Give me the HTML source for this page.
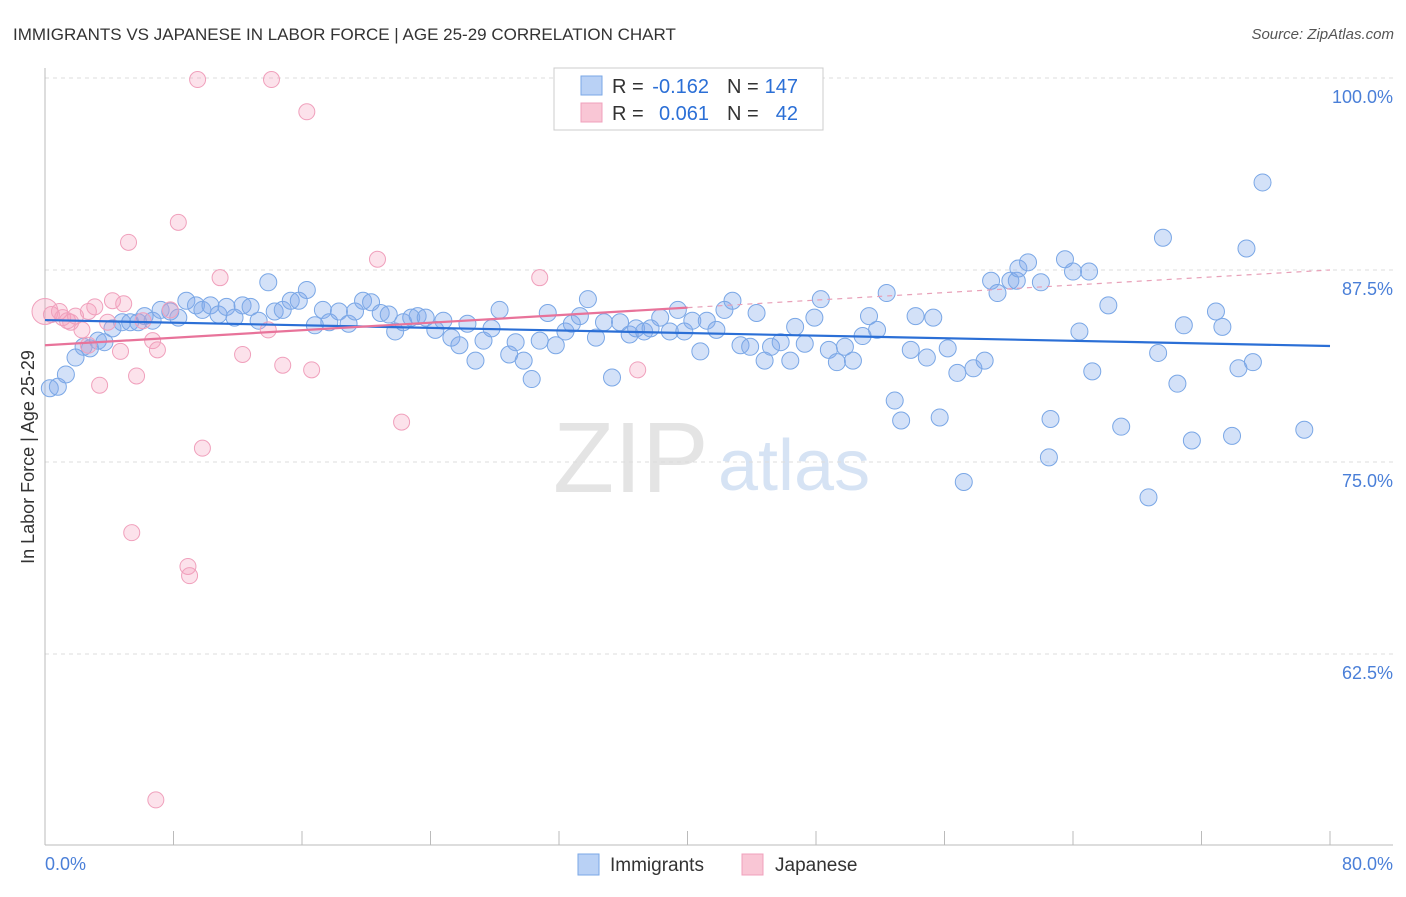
<!DOCTYPE html>
<html><head><meta charset="utf-8"><style>
body{margin:0;background:#fff;font-family:"Liberation Sans",sans-serif}
svg text{font-family:"Liberation Sans",sans-serif}
</style></head><body>
<svg id="chart" width="1406" height="892" viewBox="0 0 1406 892" xmlns="http://www.w3.org/2000/svg">
<text x="13" y="40" font-size="17" fill="#333">IMMIGRANTS VS JAPANESE IN LABOR FORCE | AGE 25-29 CORRELATION CHART</text>
<text x="1394" y="39" font-size="15" fill="#555" text-anchor="end" font-style="italic">Source: ZipAtlas.com</text>
<g>
<text x="553" y="492" font-size="100" fill="#d9d9d9" font-family="Liberation Serif" opacity="0.7">ZIP</text>
<text x="718" y="490" font-size="72" fill="#c6d8f0" opacity="0.7">atlas</text>
</g>
<g id="grid"></g>
<g id="axes"></g>
<g id="pts"></g>
<g id="trend"></g>
<text transform="translate(34,457) rotate(-90)" font-size="18" fill="#333" text-anchor="middle">In Labor Force | Age 25-29</text>
<g>
<rect x="554" y="68" width="269" height="62" fill="#fff" stroke="#ccc"/>
<rect x="581" y="76" width="21" height="19" fill="#b9d1f5" stroke="#7aa7e6"/>
<rect x="581" y="103" width="21" height="19" fill="#f9c6d5" stroke="#f0a0bc"/>
<text x="612" y="93" font-size="20" fill="#333">R =</text>
<text x="709" y="93" font-size="20" fill="#2b6fd6" text-anchor="end">-0.162</text>
<text x="727" y="93" font-size="20" fill="#333">N =</text>
<text x="798" y="93" font-size="20" fill="#2b6fd6" text-anchor="end">147</text>
<text x="612" y="120" font-size="20" fill="#333">R =</text>
<text x="709" y="120" font-size="20" fill="#2b6fd6" text-anchor="end">0.061</text>
<text x="727" y="120" font-size="20" fill="#333">N =</text>
<text x="798" y="120" font-size="20" fill="#2b6fd6" text-anchor="end">42</text>
</g>
<g>
<rect x="578" y="854" width="21" height="21" fill="#b9d1f5" stroke="#7aa7e6"/>
<text x="610" y="871" font-size="19" fill="#333">Immigrants</text>
<rect x="742" y="854" width="21" height="21" fill="#f9c6d5" stroke="#f0a0bc"/>
<text x="775" y="871" font-size="19" fill="#333">Japanese</text>
</g>
</svg>
<script>
const blueX=[0.3,0.8,1.3,1.9,2.4,2.8,3.3,3.7,4.2,4.8,5.3,5.8,6.2,6.7,7.2,7.8,8.3,8.8,9.4,9.8,10.3,10.8,11.3,11.8,12.3,12.8,13.3,13.9,14.3,14.8,15.3,15.8,16.3,16.8,17.3,17.7,18.3,18.9,19.3,19.8,20.3,20.9,21.4,21.8,22.3,22.8,23.2,23.7,24.3,24.8,25.3,25.8,26.3,26.8,27.3,27.8,28.3,28.9,29.3,29.8,30.3,30.8,31.3,31.8,32.4,32.8,33.3,33.8,34.3,34.8,35.3,35.8,36.4,36.8,37.3,37.7,38.3,38.9,39.4,39.8,40.3,40.8,41.2,41.8,42.3,42.8,43.3,43.9,44.3,44.8,45.2,45.8,46.4,46.7,47.3,47.9,48.3,48.8,49.3,49.8,50.3,50.9,51.3,51.8,52.4,52.9,53.3,53.9,54.2,54.9,55.3,55.7,56.2,56.8,57.2,57.8,58.5,58.9,59.3,60.1,60.5,60.6,61.2,62.0,62.5,62.6,63.5,64.0,64.4,65.0,65.2,66.2,67.0,68.7,69.3,69.6,70.5,70.9,71.4,72.9,73.3,73.9,74.3,74.8,75.2,75.8,78.4];
const blueY=[79.8,79.9,80.7,81.8,82.5,82.4,82.9,82.8,83.7,84.1,84.1,84.1,84.5,84.2,84.9,84.8,84.4,85.5,85.2,84.9,85.2,84.6,85.1,84.4,85.2,85.1,84.2,86.7,84.8,84.9,85.5,85.5,86.2,83.9,84.9,84.1,84.8,84.0,84.8,85.5,85.4,84.7,84.6,83.5,84.1,84.4,84.5,84.4,83.6,84.2,83.1,82.6,84.0,81.6,82.9,83.7,84.9,82.0,82.8,81.6,80.4,82.9,84.7,82.6,83.5,84.0,84.5,85.6,83.1,84.1,80.5,84.1,83.3,83.7,83.5,83.7,84.4,83.5,84.9,83.5,84.2,82.2,84.2,83.6,84.9,85.5,82.6,82.5,84.7,81.6,82.5,82.8,81.6,83.8,82.7,84.4,85.6,82.3,81.5,82.5,81.6,83.2,84.5,83.6,86.0,79.0,77.7,82.3,84.5,81.8,84.4,77.9,82.4,80.8,73.7,81.1,81.6,86.8,86.0,86.8,86.8,87.6,88.0,86.7,75.3,77.8,88.2,87.4,83.5,87.4,80.9,85.2,77.3,72.7,82.1,89.6,80.1,83.9,76.4,84.8,83.8,76.7,81.1,88.9,81.5,93.2,77.1];
const pinkX=[0,0.4,0.9,1.1,1.4,1.6,1.9,2.3,2.7,2.7,3.1,3.4,3.9,4.2,4.7,4.9,5.2,5.4,5.7,6.1,6.7,6.9,7.0,7.8,8.3,8.9,9.0,9.5,9.8,10.9,12.3,13.9,14.1,14.8,16.3,16.6,20.7,22.2,30.8,36.9];
const pinkY=[84.8,84.6,84.8,84.4,84.2,84.1,84.5,83.6,82.6,84.8,85.1,80.0,84.1,85.5,82.2,85.3,89.3,70.4,80.6,84.2,82.9,53.0,82.3,84.9,90.6,68.2,67.6,99.9,75.9,87.0,82.0,83.6,99.9,81.3,97.8,81.0,88.2,77.6,87.0,81.0];
const yTicks=[100,87.5,75,62.5];
const yTickLabels=["100.0%","87.5%","75.0%","62.5%"];
const xTicks=[0,8,16,24,32,40,48,56,64,72,80];
const blueTrend=[84.24,82.55];
const pinkTrend=[82.6,87.5];
const NS="http://www.w3.org/2000/svg";
const X=v=>45+v*(1285/80);
const Y=v=>78+(100-v)*(192/12.5);
function mk(t,a,p){const e=document.createElementNS(NS,t);for(const k in a)e.setAttribute(k,a[k]);p.appendChild(e);return e;}
const grid=document.getElementById('grid'),axes=document.getElementById('axes'),pts=document.getElementById('pts'),tr=document.getElementById('trend');
yTicks.forEach((v,i)=>{
 const l=mk('line',{x1:45,x2:1393,y1:Y(v),y2:Y(v),stroke:'#ddd','stroke-dasharray':'4,4'},grid);
 
 
 const t=mk('text',{x:1393,y:Y(v)+25,'font-size':18,fill:'#4a7fd8','text-anchor':'end'},axes);
 t.textContent=yTickLabels[i];
 
 
});
const la=mk('line',{x1:45,x2:45,y1:68,y2:845,stroke:'#bbb'},axes);


const ba=mk('line',{x1:45,x2:1393,y1:845,y2:845,stroke:'#bbb'},axes);


xTicks.forEach(v=>{
 const t=mk('line',{x1:X(v),x2:X(v),y1:831,y2:845,stroke:'#bbb'},axes);
 
 
});
const x0=mk('text',{x:45,y:870,'font-size':18,fill:'#4a7fd8'},axes);x0.textContent='0.0%';


const x1=mk('text',{x:1393,y:870,'font-size':18,fill:'#4a7fd8','text-anchor':'end'},axes);x1.textContent='80.0%';


blueX.forEach((v,i)=>{
 const c=mk('circle',{cx:X(v),cy:Y(blueY[i]),r:8.5,fill:'rgba(130,170,235,0.35)',stroke:'#7aa7e6','stroke-width':1},pts);
 
 
});
pinkX.forEach((v,i)=>{
 const c=mk('circle',{cx:X(v),cy:Y(pinkY[i]),r:i===0?13:8,fill:'rgba(245,160,190,0.3)',stroke:'#f0a0bc','stroke-width':1},pts);
 
 
});
const bl=mk('line',{x1:X(0),y1:Y(blueTrend[0]),x2:X(80),y2:Y(blueTrend[1]),stroke:'#2b6fd6','stroke-width':2.2},tr);


const pm=(pinkTrend[0]+pinkTrend[1])/2;
const pl=mk('line',{x1:X(0),y1:Y(pinkTrend[0]),x2:X(40),y2:Y(pm),stroke:'#e8739a','stroke-width':2.2},tr);


const pd=mk('line',{x1:X(40),y1:Y(pm),x2:X(80),y2:Y(pinkTrend[1]),stroke:'#e8a0b8','stroke-width':1.2,'stroke-dasharray':'5,5'},tr);


</script>
</body></html>
